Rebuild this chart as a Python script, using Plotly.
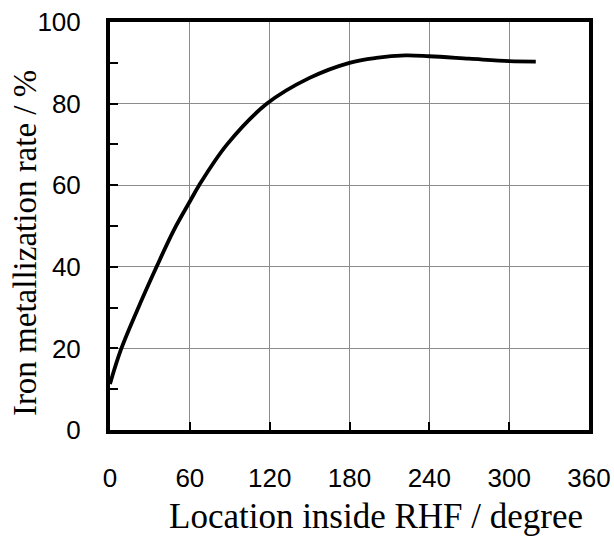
import plotly.graph_objects as go

location_deg = [0, 8, 20, 35, 48, 60, 67, 88, 118, 150, 180, 200, 222, 240, 270, 300, 320]
metallization_pct = [11.3, 19.5, 29, 40, 49, 56, 60, 70, 80, 86.3, 90, 91.2, 91.8, 91.6, 91, 90.4, 90.3]

x_ticks = [0, 60, 120, 180, 240, 300, 360]
y_ticks = [0, 20, 40, 60, 80, 100]
y_minor_ticks = [10, 30, 50, 70, 90]

x_title = "Location inside RHF / degree"
y_title = "Iron metallization rate / %"

fig = go.Figure()
fig.add_trace(go.Scatter(
    x=location_deg, y=metallization_pct, mode="lines",
    line=dict(color="black", width=3.8, shape="spline", smoothing=1.0),
    showlegend=False,
))

tick_font = dict(family="Liberation Sans Narrow, Arial Narrow, Liberation Sans, sans-serif", size=26, color="black")
serif = "Liberation Serif, Times New Roman, serif"

common = dict(
    showgrid=True, gridcolor="#8c8c8c", gridwidth=1,
    showline=True, linecolor="black", linewidth=4, mirror=True,
    ticks="inside", ticklen=8, tickcolor="black", tickwidth=1.5,
    tickfont=tick_font, zeroline=False, automargin=False,
)

fig.update_layout(
    width=614, height=536,
    margin=dict(l=110, r=25, t=22, b=106),
    paper_bgcolor="white", plot_bgcolor="white",
    xaxis=dict(range=[0, 360], tickvals=x_ticks, ticktext=[str(v) for v in x_ticks],
               ticklabelstandoff=22, **common),
    yaxis=dict(range=[0, 100], tickvals=y_ticks, ticktext=[str(v) for v in y_ticks],
               minor=dict(tickvals=y_minor_ticks, ticks="inside", ticklen=8,
                          tickcolor="black", tickwidth=1.5, showgrid=False),
               ticklabelstandoff=20, **common),
    annotations=[
        dict(text=x_title, xref="paper", yref="paper", x=0.555, y=-0.213,
             xanchor="center", yanchor="middle", showarrow=False,
             font=dict(family=serif, size=35, color="black")),
        dict(text=y_title, xref="paper", yref="paper", x=-0.1775, y=0.458,
             xanchor="center", yanchor="middle", textangle=-90, showarrow=False,
             font=dict(family=serif, size=33, color="black")),
    ],
)

fig.write_html("out.html", config={"displayModeBar": False},
               post_script="document.body.style.margin='0';")
